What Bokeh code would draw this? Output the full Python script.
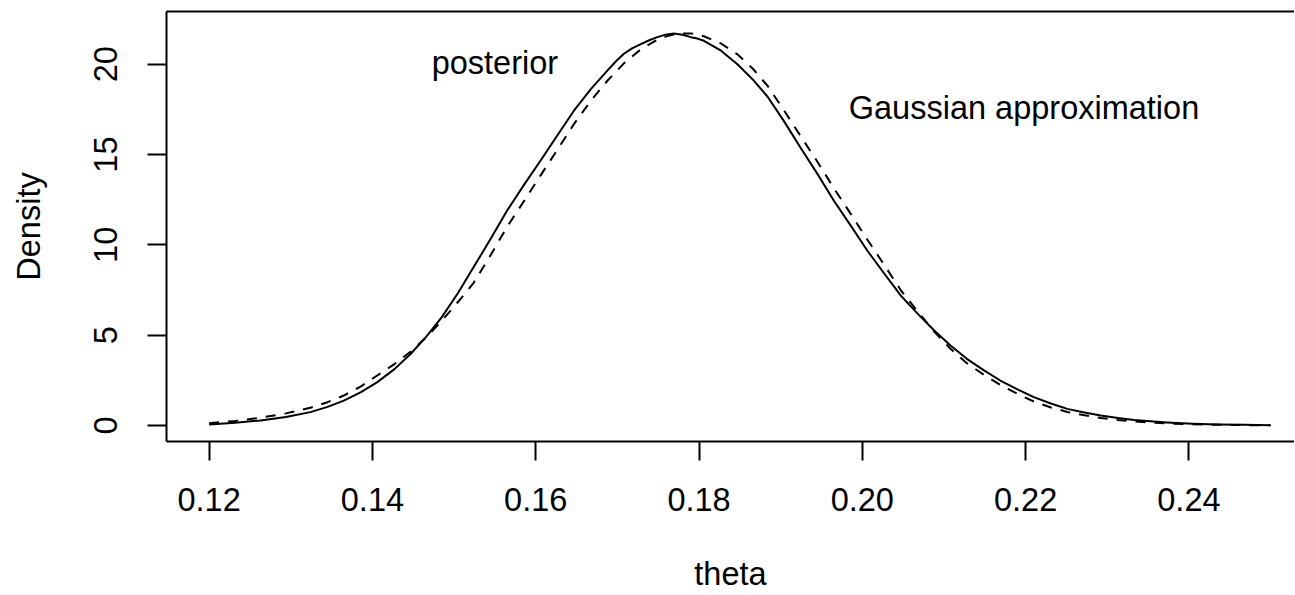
from bokeh.plotting import figure
from bokeh.models import FixedTicker, LinearAxis, Range1d, Label
from bokeh.embed import file_html
from bokeh.resources import INLINE

# ---- data ----
theta_post = [0.1200, 0.1232, 0.1263, 0.1294, 0.1324, 0.1345, 0.1365, 0.1386, 0.1406,
              0.1427, 0.1447, 0.1466, 0.1485, 0.1505, 0.1524, 0.1545, 0.1565, 0.1586,
              0.1606, 0.1627, 0.1647, 0.1668, 0.1688, 0.1698, 0.1708, 0.1718, 0.1728,
              0.1739, 0.1749, 0.1759, 0.1769, 0.1780, 0.1790, 0.1798, 0.1806, 0.1827,
              0.1847, 0.1866, 0.1884, 0.1904, 0.1924, 0.1945, 0.1965, 0.1986, 0.2006,
              0.2027, 0.2047, 0.2068, 0.2088, 0.2108, 0.2128, 0.2149, 0.2169, 0.2190,
              0.2210, 0.2231, 0.2251, 0.2272, 0.2292, 0.2313, 0.2333, 0.2353, 0.2373,
              0.2404, 0.2435, 0.2468, 0.2500]
dens_post = [0.06, 0.15, 0.28, 0.47, 0.74, 1.03, 1.38, 1.85, 2.40,
             3.12, 3.97, 4.92, 6.00, 7.35, 8.77, 10.35, 11.90, 13.35,
             14.67, 16.10, 17.44, 18.65, 19.66, 20.15, 20.58, 20.88, 21.10,
             21.33, 21.50, 21.64, 21.70, 21.63, 21.50, 21.42, 21.30, 20.75,
             20.00, 19.15, 18.20, 16.85, 15.40, 13.93, 12.46, 11.05, 9.69,
             8.40, 7.20, 6.18, 5.26, 4.43, 3.69, 3.05, 2.49, 2.00,
             1.57, 1.22, 0.92, 0.72, 0.55, 0.42, 0.31, 0.23, 0.17,
             0.10, 0.06, 0.035, 0.02]

theta_norm = [0.1200, 0.1232, 0.1263, 0.1294, 0.1324, 0.1345, 0.1365, 0.1386, 0.1406,
              0.1427, 0.1447, 0.1466, 0.1485, 0.1505, 0.1524, 0.1545, 0.1565, 0.1586,
              0.1606, 0.1627, 0.1647, 0.1668, 0.1688, 0.1708, 0.1728, 0.1739, 0.1749,
              0.1759, 0.1769, 0.1780, 0.1790, 0.1798, 0.1806, 0.1827, 0.1847, 0.1866,
              0.1884, 0.1904, 0.1924, 0.1945, 0.1965, 0.1986, 0.2006, 0.2027, 0.2047,
              0.2068, 0.2088, 0.2108, 0.2128, 0.2149, 0.2169, 0.2190, 0.2210, 0.2231,
              0.2251, 0.2272, 0.2292, 0.2313, 0.2333, 0.2353, 0.2373, 0.2404, 0.2435,
              0.2468, 0.2500]
dens_norm = [0.13, 0.25, 0.43, 0.67, 0.98, 1.29, 1.66, 2.17, 2.77,
             3.40, 4.10, 4.88, 5.80, 6.85, 7.90, 9.45, 11.00, 12.45,
             13.85, 15.30, 16.70, 18.00, 19.10, 20.05, 20.80, 21.10, 21.35,
             21.53, 21.65, 21.70, 21.70, 21.65, 21.55, 21.15, 20.55, 19.75,
             18.80, 17.45, 16.05, 14.60, 13.15, 11.70, 10.30, 8.88, 7.50,
             6.30, 5.20, 4.25, 3.45, 2.80, 2.25, 1.75, 1.33, 1.00,
             0.75, 0.57, 0.42, 0.31, 0.22, 0.16, 0.11, 0.07, 0.04,
             0.02, 0.01]

x_ticks = [0.12, 0.14, 0.16, 0.18, 0.20, 0.22, 0.24]
x_tick_labels = ["0.12", "0.14", "0.16", "0.18", "0.20", "0.22", "0.24"]
y_ticks = [0, 5, 10, 15, 20]
y_tick_labels = ["0", "5", "10", "15", "20"]

x_label = "theta"
y_label = "Density"
annotations = [("posterior", 0.155, 20.08), ("Gaussian approximation", 0.2198, 17.58)]

FONT = "Liberation Sans"
FS = "32.5px"

p = figure(width=1294, height=594, output_backend="svg", toolbar_location=None,
           x_range=Range1d(0.11478, 0.25293), y_range=Range1d(-0.886, 22.92),
           min_border_left=166, min_border_right=0, min_border_top=11,
           min_border_bottom=153)
p.grid.visible = False
p.outline_line_color = None
p.background_fill_color = "white"
p.border_fill_color = "white"

p.line(theta_post, dens_post, line_width=2, line_color="black", line_join="round")
p.line(theta_norm, dens_norm, line_width=2, line_color="black", line_dash="10 9")

for ax in (p.xaxis[0], p.yaxis[0]):
    ax.axis_line_width = 2
    ax.axis_line_color = "black"
    ax.major_tick_line_width = 2
    ax.major_tick_line_color = "black"
    ax.major_tick_out = 19
    ax.major_tick_in = 0
    ax.minor_tick_out = 0
    ax.minor_tick_in = 0
    ax.major_label_text_font = FONT
    ax.major_label_text_font_size = FS
    ax.major_label_text_color = "black"
    ax.axis_label_text_font = FONT
    ax.axis_label_text_font_size = FS
    ax.axis_label_text_font_style = "normal"
    ax.axis_label_text_color = "black"

p.xaxis.ticker = FixedTicker(ticks=x_ticks)
p.xaxis.major_label_overrides = dict(zip(x_ticks, x_tick_labels))
p.xaxis.major_label_standoff = 27
p.xaxis.axis_label = x_label
p.xaxis.axis_label_standoff = 42

p.yaxis.ticker = FixedTicker(ticks=y_ticks)
p.yaxis.major_label_overrides = dict(zip(y_ticks, y_tick_labels))
p.yaxis.major_label_orientation = "vertical"
p.yaxis.major_label_standoff = 30
p.yaxis.axis_label = y_label
p.yaxis.axis_label_standoff = 45

top = LinearAxis(ticker=FixedTicker(ticks=[]), axis_line_width=2, axis_line_color="black",
                 major_tick_out=0, major_tick_in=0, minor_tick_out=0, minor_tick_in=0,
                 major_label_text_font_size="0px", major_label_standoff=0,
                 axis_label_standoff=0)
p.add_layout(top, "above")

for txt, tx, ty in annotations:
    p.add_layout(Label(x=tx, y=ty, text=txt, text_align="center",
                       text_baseline="alphabetic", text_font=FONT,
                       text_font_size=FS, text_color="black"))

open("out.html", "w").write(file_html(p, INLINE))
